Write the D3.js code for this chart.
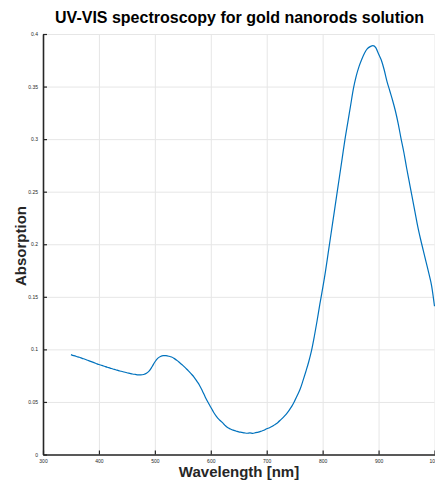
<!DOCTYPE html>
<html lang="en">
<head>
  <meta charset="utf-8">
  <title>UV-VIS spectroscopy</title>
  <style>
    body { margin: 0; background: #fff; }
    svg { display: block; font-family: "Liberation Sans", Arial, sans-serif; }
    .grid line { stroke: #e6e6e6; stroke-width: 1; }
    .grid path { display: none; }
    .axis path, .axis line { stroke: #262626; }
    .axis text { fill: #262626; font-size: 5px; }
  </style>
</head>
<body>
<svg id="chart" width="435" height="483"></svg>

<script src="https://d3js.org/d3.v7.min.js"></script>
<script>
  // wavelength samples (nm), one every 5 nm
  var wavelengths = d3.range(350, 1001, 5);

  // absorption
  var absorption = [
    0.0950, 0.0940, 0.0932, 0.0925, 0.0915, 0.0906, 0.0896, 0.0886, 0.0876, 0.0866,
    0.0856, 0.0848, 0.0839, 0.0830, 0.0822, 0.0813, 0.0806, 0.0798, 0.0792, 0.0785,
    0.0778, 0.0772, 0.0766, 0.0762, 0.0758, 0.0757, 0.0761, 0.0772, 0.0795, 0.0835,
    0.0880, 0.0914, 0.0933, 0.0941, 0.0940, 0.0935, 0.0927, 0.0912, 0.0893, 0.0870,
    0.0848, 0.0822, 0.0796, 0.0767, 0.0737, 0.0698, 0.0657, 0.0605, 0.0548, 0.0497,
    0.0450, 0.0402, 0.0363, 0.0332, 0.0308, 0.0280, 0.0256, 0.0243, 0.0232, 0.0224,
    0.0215, 0.0211, 0.0206, 0.0202, 0.0205, 0.0201, 0.0208, 0.0213, 0.0221, 0.0230,
    0.0245, 0.0254, 0.0268, 0.0286, 0.0305, 0.0330, 0.0356, 0.0385, 0.0420, 0.0460,
    0.0510, 0.0565, 0.0625, 0.0705, 0.0790, 0.0880, 0.0985, 0.1120, 0.1270, 0.1430,
    0.1580, 0.1740, 0.1920, 0.2100, 0.2280, 0.2460, 0.2640, 0.2820, 0.3000, 0.3160,
    0.3320, 0.3480, 0.3600, 0.3690, 0.3760, 0.3820, 0.3860, 0.3880, 0.3890, 0.3870,
    0.3810, 0.3750, 0.3660, 0.3550, 0.3460, 0.3370, 0.3270, 0.3150, 0.3010, 0.2880,
    0.2730, 0.2590, 0.2450, 0.2310, 0.2170, 0.2050, 0.1940, 0.1830, 0.1720, 0.1600,
    0.1410
  ];

  var xTicks = [300, 400, 500, 600, 700, 800, 900, 1000];
  var yTicks = [0, 0.05, 0.1, 0.15, 0.2, 0.25, 0.3, 0.35, 0.4];

  var data = wavelengths.map(function(w, i) { return { w: w, a: absorption[i] }; });

  var svg = d3.select("#chart");

  var x = d3.scaleLinear().domain([300, 1000]).range([43, 434.5]);
  var y = d3.scaleLinear().domain([0, 0.4]).range([454.5, 34]);

  // grid
  svg.append("g")
     .attr("class", "grid")
     .attr("transform", "translate(0," + y(0) + ")")
     .call(d3.axisBottom(x).tickValues(xTicks).tickSize(-(y(0) - y(0.4))).tickFormat(""));
  svg.append("g")
     .attr("class", "grid")
     .attr("transform", "translate(" + x(300) + ",0)")
     .call(d3.axisLeft(y).tickValues(yTicks).tickSize(-(x(1000) - x(300))).tickFormat(""));

  // data line
  var line = d3.line()
               .curve(d3.curveMonotoneX)
               .x(function(d) { return x(d.w); })
               .y(function(d) { return y(d.a); });

  svg.append("path")
     .datum(data)
     .attr("fill", "none")
     .attr("stroke", "#0072BD")
     .attr("stroke-width", 1.2)
     .attr("stroke-linejoin", "round")
     .attr("d", line);

  // axes (ticks pointing inwards)
  var xAxis = svg.append("g")
     .attr("class", "axis")
     .attr("transform", "translate(0," + y(0) + ")")
     .call(d3.axisBottom(x).tickValues(xTicks).tickSizeInner(-4).tickSizeOuter(0).tickPadding(5)
           .tickFormat(d3.format("d")));
  xAxis.select(".domain").attr("stroke-width", 1.6);
  xAxis.selectAll(".tick line").attr("stroke-width", 1.2);

  var yAxis = svg.append("g")
     .attr("class", "axis")
     .attr("transform", "translate(" + x(300) + ",0)")
     .call(d3.axisLeft(y).tickValues(yTicks).tickSizeInner(-4).tickSizeOuter(0).tickPadding(5)
           .tickFormat(function(d) { return d3.format("")(+d.toFixed(2)); }));
  yAxis.select(".domain").attr("stroke-width", 1.6);
  yAxis.selectAll(".tick line").attr("stroke-width", 1.2);

  // titles
  svg.append("text")
     .attr("x", 239.5).attr("y", 23)
     .attr("text-anchor", "middle")
     .attr("font-weight", "bold").attr("font-size", 16)
     .attr("fill", "#000")
     .text("UV-VIS spectroscopy for gold nanorods solution");

  svg.append("text")
     .attr("x", 239).attr("y", 477)
     .attr("text-anchor", "middle")
     .attr("font-weight", "bold").attr("font-size", 15)
     .attr("fill", "#262626")
     .text("Wavelength [nm]");

  svg.append("text")
     .attr("transform", "translate(26,246) rotate(-90)")
     .attr("text-anchor", "middle")
     .attr("font-weight", "bold").attr("font-size", 15)
     .attr("fill", "#262626")
     .text("Absorption");
</script>
</body>
</html>
